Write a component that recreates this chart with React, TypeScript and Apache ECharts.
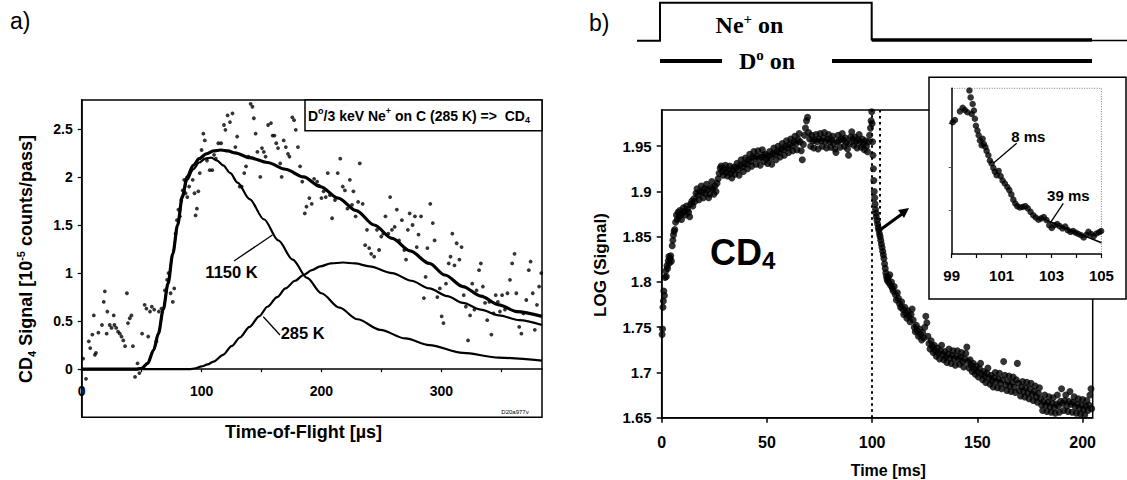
import { useEffect, useRef } from "react";
import * as echarts from "echarts";

const SANS = '"Liberation Sans", Arial, Helvetica, sans-serif';
const SERIF = '"Liberation Serif", "Times New Roman", serif';

// ---------- Panel a: CD4 time-of-flight spectrum ----------
const tofLabelValues = [0, 100, 200, 300];
const signalLabelValues = [0, 0.5, 1, 1.5, 2, 2.5];
const tofPoints: number[][] = [
  [1.2, 0.11], [3.6, -0.1], [5.9, 0.29], [7.1, 0.22], [8.9, 0.36], [10.1, 0.56], [11, 0.15], [11.9, 0.17],
  [13.9, 0.38], [16.9, 0.46], [18.4, 0.7], [19.3, 0.81], [20.8, 0.37], [21.4, 0.6], [23.4, 0.46], [24.9, 0.43],
  [26.7, 0.56], [27.3, 0.46], [28.8, 0.43], [30.3, 0.39], [31.8, 0.37], [33.2, 0.34], [34.7, 0.3], [36.2, 0.24],
  [37.7, 0.79], [38.6, 0.48], [40.1, 0.53], [41.5, 0.56], [42.7, 0.24], [44.5, -0.08], [46.6, 0.06], [48.1, -0.04],
  [50.4, 0.37], [52.5, 0.67], [54, 0.63], [55.5, 0.34], [57, 0.6], [58.5, 0.65], [60.5, 0.62], [62.3, 0.29],
  [64.4, 0.6], [66.5, 0.63], [69.4, 0.82], [71.2, 0.93], [72.4, 1.0], [74.2, 0.79], [76, 0.7], [77.2, 0.84],
  [78.3, 1.41], [79.5, 1.55], [80.7, 1.66], [81.9, 1.59], [83.1, 1.76], [84.3, 1.86], [85.5, 1.97], [86.6, 1.83],
  [88.1, 1.79], [89.6, 1.9], [91.4, 2.07], [92.6, 1.97], [94.1, 1.83], [95, 1.6], [96.1, 1.67], [97.3, 1.85],
  [98.5, 2.04], [100, 2.28], [101.5, 2.45], [102.7, 2.38], [104.5, 2.17], [106.8, 2.07], [108.9, 2.07], [110.4, 2.23],
  [111.9, 2.19], [114, 2.35], [116.3, 2.35], [118.7, 2.54], [119.9, 2.49], [121.7, 2.64], [123.7, 2.57], [125.8, 2.66],
  [128.2, 2.31], [129.7, 2.42], [131.8, 1.9], [133.5, 1.9], [135.6, 2.04], [137.1, 2.11], [139.2, 2.21], [140.9, 2.76],
  [142.4, 2.73], [143.6, 2.61], [145.1, 2.45], [146.6, 2.26], [149, 2.0], [150.4, 2.3], [151.9, 2.26], [153.4, 2.21],
  [155.5, 2.54], [157.9, 2.56], [159.3, 2.43], [160.8, 2.43], [162.3, 2.35], [163.8, 2.3], [165.6, 2.14], [166.8, 2.0],
  [168.5, 2.38], [170.3, 2.31], [172.1, 2.24], [173.3, 2.21], [175.7, 2.62], [177.2, 2.59], [178.6, 2.49], [180.4, 2.31],
  [182.2, 2.11], [184, 1.95], [186.1, 1.62], [187.5, 1.69], [189.9, 1.78], [191.9, 1.72], [193.9, 1.98], [196.4, 1.95],
  [197.9, 1.91], [200, 1.78], [201.8, 1.85], [203.6, 1.79], [205.3, 2.04], [207.1, 1.81], [208.9, 1.57], [211.3, 1.76],
  [213.6, 2.04], [215.7, 2.19], [217.8, 1.9], [219.6, 1.86], [221.7, 1.67], [223.7, 1.97], [225.5, 1.71], [226.7, 1.85],
  [228.5, 1.59], [230.6, 1.74], [232, 2.14], [234.4, 1.72], [236.5, 1.29], [238, 1.45], [239.8, 1.26], [241.5, 1.2],
  [244, 1.17], [246.3, 1.45], [248.1, 1.24], [249.9, 1.38], [251.6, 1.41], [253.4, 1.59], [255.8, 1.41], [257.3, 1.79],
  [258.8, 1.45], [261.1, 1.48], [262.9, 1.66], [264.7, 1.34], [267.1, 1.55], [269.1, 1.24], [270.6, 1.14], [272.1, 1.45],
  [273.6, 1.62], [276, 1.5], [278, 1.59], [279.5, 1.27], [281, 1.4], [283.1, 1.59], [285.5, 0.74], [286.9, 0.96],
  [288.4, 1.26], [290.8, 1.72], [292.9, 1.52], [294.4, 1.34], [296.7, 0.75], [298.8, 0.84], [300.3, 0.55], [301.8, 0.48],
  [303.9, 0.89], [306.2, 1.1], [307.7, 1.17], [309.2, 1.41], [311, 1.08], [312.8, 1.31], [315.1, 1.14], [316.9, 1.27],
  [318.7, 0.77], [320.5, 0.65], [322.3, 0.3], [324, 0.56], [325.8, 0.89], [327.6, 0.62], [329.4, 0.82], [331.5, 1.03],
  [333, 1.1], [334.7, 0.86], [336.5, 0.69], [338.3, 0.51], [340.1, 0.7], [341.8, 0.36], [343.6, 0.58], [345.4, 0.77],
  [347.2, 0.7], [348.9, 0.6], [350.7, 0.77], [353.1, 0.62], [355.2, 0.79], [357.3, 0.93], [359.1, 1.1], [361.1, 1.2],
  [362.6, 0.79], [365, 0.44], [366.8, 0.37], [368.5, 0.58], [370.9, 0.72], [373, 1.03], [374.5, 1.12], [376.3, 0.79],
  [378, 0.41], [379.8, 0.67], [381.6, 0.86], [383.4, 1.0],
];
const fitTotal: number[][] = [
  [0, 0], [45, 0], [50, 0.01], [55, 0.06], [60, 0.2], [64, 0.37], [68, 0.62], [72, 0.89], [76, 1.2], [80, 1.5],
  [84, 1.8], [88, 2.0], [93, 2.12], [98, 2.19], [104, 2.24], [110, 2.27], [116, 2.28], [122, 2.27], [128, 2.25],
  [140, 2.2], [155, 2.15], [170, 2.08], [185, 2.0], [199, 1.9], [214, 1.78], [229, 1.65], [244, 1.5], [259, 1.36],
  [274, 1.23], [290, 1.1], [303, 0.98], [318, 0.86], [333, 0.76], [348, 0.67], [363, 0.6], [384, 0.55],
];
const fit1150K: number[][] = [
  [0, 0], [45, 0], [50, 0.01], [55, 0.06], [60, 0.2], [64, 0.37], [68, 0.62], [72, 0.89], [76, 1.2], [80, 1.5],
  [84, 1.78], [88, 1.97], [93, 2.08], [98, 2.15], [103, 2.19], [108, 2.2], [113, 2.17], [118, 2.12], [124, 2.04],
  [130, 1.94], [140, 1.77], [152, 1.56], [164, 1.34], [176, 1.14], [188, 0.95], [200, 0.79], [215, 0.64], [230, 0.52],
  [249, 0.41], [270, 0.32], [290, 0.25], [318, 0.17], [348, 0.12], [384, 0.09],
];
const fit285K: number[][] = [
  [0, 0], [90, 0], [95, 0.01], [100, 0.03], [105, 0.05], [110, 0.08], [118, 0.15], [125, 0.24], [132, 0.33],
  [140, 0.44], [148, 0.55], [155, 0.65], [163, 0.75], [170, 0.84], [178, 0.92], [185, 0.98], [192, 1.03], [199, 1.07],
  [208, 1.1], [218, 1.11], [228, 1.1], [240, 1.07], [259, 1.0], [275, 0.92], [290, 0.84], [305, 0.76], [318, 0.69],
  [333, 0.62], [348, 0.56], [365, 0.51], [384, 0.46],
];

// ---------- Panel b: LOG(signal) vs time ----------
const timeLabelValues = [0, 50, 100, 150, 200];
const logLabelValues = [1.65, 1.7, 1.75, 1.8, 1.85, 1.9, 1.95];
const beamOffTime = 100;
const logSignal: number[][] = [
  [0.2, 1.742], [0.4, 1.748], [0.6, 1.772], [0.8, 1.779], [1.0, 1.79], [1.3, 1.785], [1.6, 1.805], [1.9, 1.812],
  [2.2, 1.806], [2.5, 1.818], [2.8, 1.815], [3.1, 1.823], [3.4, 1.828], [3.7, 1.821], [4.0, 1.826], [4.3, 1.829],
  [4.6, 1.823], [5.0, 1.84], [5.3, 1.846], [5.6, 1.852], [5.9, 1.856], [6.2, 1.858], [6.6, 1.866], [7.0, 1.874],
  [7.4, 1.869], [7.8, 1.877], [8.2, 1.872], [8.6, 1.879], [9.0, 1.874], [9.4, 1.869], [9.8, 1.876],
  [10.3, 1.882], [10.8, 1.878], [11.3, 1.874], [11.8, 1.884], [12.3, 1.88], [12.8, 1.877], [13.3, 1.872], [13.8, 1.886],
  [14.3, 1.889], [14.8, 1.884], [15.3, 1.892], [15.8, 1.889], [16.3, 1.898], [16.8, 1.903], [17.3, 1.896], [17.8, 1.891],
  [18.3, 1.9], [18.8, 1.906], [19.3, 1.899], [19.8, 1.893], [20.3, 1.903], [20.8, 1.898], [21.3, 1.908], [21.8, 1.902],
  [22.3, 1.893], [22.8, 1.897], [23.3, 1.904], [23.8, 1.911], [24.3, 1.903], [24.8, 1.897], [25.3, 1.906], [25.8, 1.9],
  [26.3, 1.909], [26.8, 1.914], [27.3, 1.92], [27.8, 1.926], [28.3, 1.928], [28.8, 1.922], [29.3, 1.918], [29.8, 1.925],
  [30.3, 1.929], [30.8, 1.921], [31.3, 1.917], [31.8, 1.924], [32.3, 1.928], [32.8, 1.92], [33.3, 1.915], [33.8, 1.923],
  [34.3, 1.927], [34.8, 1.919], [35.3, 1.926], [35.8, 1.931], [36.3, 1.924], [36.8, 1.918], [37.3, 1.929], [37.8, 1.935],
  [38.3, 1.927], [38.8, 1.922], [39.3, 1.931], [39.8, 1.937], [40.3, 1.93], [40.8, 1.925], [41.3, 1.935], [41.8, 1.941],
  [42.3, 1.933], [42.8, 1.928], [43.3, 1.938], [43.8, 1.944], [44.3, 1.937], [44.8, 1.93], [45.3, 1.939], [45.8, 1.945],
  [46.3, 1.936], [46.8, 1.929], [47.3, 1.938], [47.8, 1.946], [48.3, 1.94], [48.8, 1.933], [49.3, 1.941], [49.8, 1.936],
  [50.3, 1.931], [50.8, 1.939], [51.3, 1.944], [51.8, 1.937], [52.3, 1.93], [52.8, 1.942], [53.3, 1.948], [53.8, 1.941],
  [54.3, 1.935], [54.8, 1.944], [55.3, 1.95], [55.8, 1.943], [56.3, 1.938], [56.8, 1.947], [57.3, 1.953], [57.8, 1.946],
  [58.3, 1.94], [58.8, 1.95], [59.3, 1.956], [59.8, 1.948], [60.3, 1.943], [60.8, 1.952], [61.3, 1.958], [61.8, 1.95],
  [62.3, 1.945], [62.8, 1.955], [63.3, 1.961], [63.8, 1.953], [64.3, 1.946], [64.8, 1.957], [65.3, 1.964], [65.8, 1.955],
  [66.3, 1.945], [66.8, 1.935], [67.3, 1.952], [67.8, 1.962], [68.3, 1.97], [68.8, 1.978], [69.3, 1.982], [69.8, 1.965],
  [70.3, 1.958], [70.8, 1.95], [71.3, 1.962], [71.8, 1.956], [72.3, 1.948], [72.8, 1.957], [73.3, 1.963], [73.8, 1.955],
  [74.3, 1.947], [74.8, 1.958], [75.3, 1.964], [75.8, 1.956], [76.3, 1.95], [76.8, 1.959], [77.3, 1.965], [77.8, 1.955],
  [78.3, 1.948], [78.8, 1.958], [79.3, 1.963], [79.8, 1.955], [80.3, 1.949], [80.8, 1.957], [81.3, 1.961], [81.8, 1.953],
  [82.3, 1.947], [82.8, 1.943], [83.3, 1.955], [83.8, 1.962], [84.3, 1.956], [84.8, 1.949], [85.3, 1.958], [85.8, 1.964],
  [86.3, 1.957], [86.8, 1.95], [87.3, 1.959], [87.8, 1.954], [88.3, 1.947], [88.8, 1.94], [89.3, 1.953], [89.8, 1.96],
  [90.3, 1.966], [90.8, 1.958], [91.3, 1.951], [91.8, 1.96], [92.3, 1.955], [92.8, 1.948], [93.3, 1.957], [93.8, 1.963],
  [94.3, 1.955], [94.8, 1.949], [95.3, 1.958], [95.8, 1.952], [96.3, 1.946], [96.8, 1.956], [97.3, 1.95], [97.8, 1.944],
  [98.3, 1.955], [98.8, 1.962], [99.2, 1.97], [99.5, 1.978], [99.8, 1.988],
  [100.0, 1.975], [100.2, 1.955], [100.4, 1.94], [100.6, 1.925], [100.8, 1.912], [101.0, 1.9], [101.2, 1.893],
  [101.4, 1.886], [101.6, 1.88], [101.8, 1.876], [102.0, 1.872], [102.3, 1.868], [102.6, 1.864], [102.9, 1.86],
  [103.2, 1.857], [103.5, 1.853], [103.8, 1.85], [104.1, 1.846], [104.4, 1.842], [104.7, 1.838], [105.0, 1.834],
  [105.3, 1.83], [105.6, 1.826], [105.9, 1.82], [106.2, 1.815], [106.5, 1.81], [106.8, 1.806], [107.1, 1.803],
  [107.4, 1.801], [107.7, 1.805], [108.0, 1.799], [108.4, 1.808], [108.8, 1.796], [109.2, 1.8], [109.6, 1.793],
  [110.0, 1.79], [110.5, 1.795], [111.0, 1.786], [111.5, 1.78], [112.0, 1.788], [112.5, 1.782], [113.0, 1.776],
  [113.5, 1.772], [114.0, 1.778], [114.5, 1.77], [115.0, 1.764], [115.5, 1.772], [116.0, 1.766], [116.5, 1.76],
  [117.0, 1.768], [117.5, 1.762], [118.0, 1.756], [118.5, 1.764], [119.0, 1.77], [119.5, 1.758], [120.0, 1.75],
  [120.5, 1.745], [121.0, 1.752], [121.5, 1.746], [122.0, 1.74], [122.5, 1.748], [123.0, 1.742], [123.5, 1.736],
  [124.0, 1.744], [124.5, 1.738], [125.0, 1.75], [125.5, 1.762], [126.0, 1.755], [126.5, 1.74], [127.0, 1.732],
  [127.5, 1.726], [128.0, 1.735], [128.5, 1.729], [129.0, 1.722], [129.5, 1.73],
  [130.0, 1.724], [130.5, 1.718], [131.0, 1.727], [131.5, 1.721], [132.0, 1.715], [132.5, 1.724], [133.0, 1.73],
  [133.5, 1.72], [134.0, 1.714], [134.5, 1.723], [135.0, 1.717], [135.5, 1.711], [136.0, 1.72], [136.5, 1.726],
  [137.0, 1.716], [137.5, 1.71], [138.0, 1.719], [138.5, 1.724], [139.0, 1.715], [139.5, 1.708], [140.0, 1.718],
  [140.5, 1.724], [141.0, 1.715], [141.5, 1.709], [142.0, 1.717], [142.5, 1.722], [143.0, 1.712], [143.5, 1.706],
  [144.0, 1.715], [144.5, 1.721], [145.0, 1.728], [145.5, 1.712], [146.0, 1.705], [146.5, 1.714], [147.0, 1.708],
  [147.5, 1.701], [148.0, 1.71], [148.5, 1.704], [149.0, 1.698], [149.5, 1.707],
  [150.0, 1.701], [150.5, 1.695], [151.0, 1.704], [151.5, 1.71], [152.0, 1.698], [152.5, 1.692], [153.0, 1.701],
  [153.5, 1.696], [154.0, 1.689], [154.5, 1.699], [155.0, 1.705], [155.5, 1.694], [156.0, 1.687], [156.5, 1.697],
  [157.0, 1.691], [157.5, 1.684], [158.0, 1.694], [158.5, 1.7], [159.0, 1.69], [159.5, 1.683], [160.0, 1.693],
  [160.5, 1.699], [161.0, 1.688], [161.5, 1.682], [162.0, 1.692], [162.5, 1.712], [163.0, 1.697], [163.5, 1.686],
  [164.0, 1.68], [164.5, 1.69], [165.0, 1.696], [165.5, 1.685], [166.0, 1.679], [166.5, 1.689], [167.0, 1.695],
  [167.5, 1.684], [168.0, 1.678], [168.5, 1.692], [169.0, 1.71], [169.5, 1.688], [170.0, 1.68], [170.5, 1.674],
  [171.0, 1.684], [171.5, 1.69], [172.0, 1.679], [172.5, 1.673], [173.0, 1.683], [173.5, 1.689], [174.0, 1.677],
  [174.5, 1.671], [175.0, 1.682], [175.5, 1.688], [176.0, 1.676], [176.5, 1.669], [177.0, 1.679], [177.5, 1.685],
  [178.0, 1.673], [178.5, 1.667], [179.0, 1.677], [179.5, 1.683], [180.0, 1.671], [180.5, 1.664], [181.0, 1.658],
  [181.5, 1.668], [182.0, 1.675], [182.5, 1.664], [183.0, 1.657], [183.5, 1.667], [184.0, 1.673], [184.5, 1.662],
  [185.0, 1.656], [185.5, 1.666], [186.0, 1.672], [186.5, 1.661], [187.0, 1.655], [187.5, 1.665], [188.0, 1.675],
  [188.5, 1.663], [189.0, 1.656], [189.5, 1.668], [190.0, 1.682], [190.5, 1.666], [191.0, 1.658], [191.5, 1.669],
  [192.0, 1.675], [192.5, 1.663], [193.0, 1.657], [193.5, 1.668], [194.0, 1.679], [194.5, 1.665], [195.0, 1.656],
  [195.5, 1.667], [196.0, 1.673], [196.5, 1.662], [197.0, 1.655], [197.5, 1.665], [198.0, 1.671], [198.5, 1.66],
  [199.0, 1.654], [199.5, 1.664], [200.0, 1.67], [200.5, 1.659], [201.0, 1.653], [201.5, 1.663], [202.0, 1.669],
  [202.5, 1.658], [203.0, 1.664], [203.5, 1.675], [204.0, 1.682], [204.3, 1.66],
];

// ---------- Inset: 99-105 ms zoom (arbitrary signal units) ----------
const insetLabelValues = [99, 101, 103, 105];
const insetSignal: number[][] = [
  [99.04, 3.03], [99.13, 3.08], [99.33, 3.28], [99.44, 3.36], [99.53, 3.31], [99.63, 3.26], [99.71, 3.76],
  [99.76, 3.6], [99.8, 3.22], [99.84, 3.45], [99.89, 3.3], [99.93, 3.11], [99.97, 2.95], [100.03, 2.84],
  [100.08, 2.73], [100.13, 2.61], [100.2, 2.5], [100.24, 2.65], [100.29, 2.53], [100.35, 2.46], [100.4, 2.37],
  [100.47, 2.27], [100.53, 2.15], [100.6, 2.08], [100.67, 1.98], [100.73, 1.89], [100.8, 1.81], [100.88, 1.91],
  [100.96, 1.79], [101.04, 1.69], [101.13, 1.62], [101.23, 1.54], [101.31, 1.47], [101.39, 1.37], [101.47, 1.25],
  [101.55, 1.16], [101.63, 1.1], [101.73, 1.07], [101.84, 1.08], [101.95, 1.1], [102.05, 1.05], [102.16, 0.97],
  [102.27, 0.89], [102.37, 0.84], [102.48, 0.79], [102.59, 0.82], [102.69, 0.85], [102.8, 0.78], [102.91, 0.66],
  [103.01, 0.6], [103.12, 0.66], [103.23, 0.69], [103.33, 0.64], [103.44, 0.59], [103.55, 0.63], [103.65, 0.55],
  [103.76, 0.51], [103.87, 0.53], [103.97, 0.49], [104.08, 0.46], [104.19, 0.43], [104.29, 0.38], [104.4, 0.44],
  [104.48, 0.51], [104.59, 0.46], [104.69, 0.41], [104.8, 0.47], [104.91, 0.5], [104.99, 0.53],
];
const insetFit39ms: number[][] = [[102.7, 0.8], [105, 0.26]];

const fmtNum = (v: number) => String(parseFloat(v.toFixed(2)));
const onList = (list: number[]) => (v: number) =>
  list.some((t) => Math.abs(t - v) < 1e-6) ? fmtNum(v) : "";

export default function App() {
  const ref = useRef<HTMLDivElement>(null);

  useEffect(() => {
    if (!ref.current) return;
    const chart = echarts.init(ref.current, undefined, { renderer: "svg" });

    const lblStyle = (size: number) => ({
      color: "#000",
      fontWeight: "bold" as const,
      fontFamily: SANS,
      fontSize: size,
    });
    const blackLine = (w: number) => ({ lineStyle: { color: "#000", width: w } });

    const txt = (
      x: number, y: number, text: string, size: number,
      extra: any = {}, styleExtra: any = {}
    ) => ({
      type: "text", x, y, z: 30, silent: true, ...extra,
      style: {
        text, fill: "#000", fontSize: size, fontWeight: "bold", fontFamily: SANS,
        align: "center", verticalAlign: "middle", ...styleExtra,
      },
    });
    const seg = (x1: number, y1: number, x2: number, y2: number, w: number, z = 30, extra: any = {}) => ({
      type: "line", z, silent: true,
      shape: { x1, y1, x2, y2 },
      style: { stroke: "#000", lineWidth: w, ...extra },
    });
    const richSet = (size: number, family: string, lh: number, small: number) => ({
      m: { fontSize: size, fontWeight: "bold", fontFamily: family, lineHeight: lh, verticalAlign: "middle", fill: "#000" },
      s: { fontSize: small, fontWeight: "bold", fontFamily: family, lineHeight: small, verticalAlign: "top", fill: "#000" },
      b: { fontSize: small, fontWeight: "bold", fontFamily: family, lineHeight: small, verticalAlign: "bottom", fill: "#000" },
    });

    // panel a grid geometry: the x axis sits on y = 0, above the frame bottom
    const aTop = 100, aHeight = 317.3, aMin = -0.5, aMax = 2.8;
    const zeroOffset = -(aHeight * (0 - aMin)) / (aMax - aMin);

    const option: any = {
      animation: false,
      backgroundColor: "#fff",
      grid: [
        { left: 81.7, top: aTop, width: 460.3, height: aHeight, show: true, borderColor: "#000", borderWidth: 1.5, backgroundColor: "transparent" },
        { left: 661.7, top: 110, width: 431, height: 307.7, show: true, borderColor: "#000", borderWidth: 1.5, backgroundColor: "transparent" },
        { left: 951.7, top: 88.3, width: 149.7, height: 165.7, show: false, z: 20 },
      ],
      xAxis: [
        {
          gridIndex: 0, type: "value", min: 0, max: 384, interval: 50, position: "bottom", offset: zeroOffset,
          axisLine: { onZero: false, ...blackLine(1.5) },
          axisTick: { length: 3, ...blackLine(1.2), customValues: [0, 50, 100, 150, 200, 250, 300, 350] },
          axisLabel: { ...lblStyle(14), margin: 15, formatter: onList(tofLabelValues), customValues: tofLabelValues },
          splitLine: { show: false },
        },
        {
          gridIndex: 1, type: "value", min: 0, max: 204.8, interval: 50,
          axisLine: { ...blackLine(1.5) },
          axisTick: { length: 5, ...blackLine(1.5), customValues: timeLabelValues },
          axisLabel: { ...lblStyle(16), margin: 17, formatter: onList(timeLabelValues), customValues: timeLabelValues },
          splitLine: { show: false },
        },
        {
          gridIndex: 2, type: "value", min: 99, max: 105, interval: 1, z: 20,
          axisLine: { onZero: false, ...blackLine(1.5) },
          axisTick: { length: 4, ...blackLine(1.2), customValues: [99, 100, 101, 102, 103, 104, 105] },
          axisLabel: { ...lblStyle(15), margin: 14, formatter: onList(insetLabelValues), customValues: insetLabelValues },
          splitLine: { show: false },
        },
      ],
      yAxis: [
        {
          gridIndex: 0, type: "value", min: aMin, max: aMax, interval: 0.5,
          axisLine: { onZero: false, ...blackLine(1.5) },
          axisTick: { length: 4, ...blackLine(1.2), customValues: signalLabelValues },
          axisLabel: { ...lblStyle(14), margin: 9, formatter: onList(signalLabelValues), customValues: signalLabelValues },
          splitLine: { show: false },
        },
        {
          gridIndex: 1, type: "value", min: 1.65, max: 1.99, interval: 0.05,
          axisLine: { ...blackLine(1.5) },
          axisTick: { length: 5, ...blackLine(1.5), customValues: logLabelValues },
          axisLabel: { ...lblStyle(15), margin: 10, formatter: onList(logLabelValues), customValues: logLabelValues },
          splitLine: { show: false },
        },
        {
          gridIndex: 2, type: "value", min: 0, max: 3.81, interval: 1, z: 20,
          axisLine: { onZero: false, ...blackLine(1.5) },
          axisTick: { length: 3, lineStyle: { color: "#555", width: 1 }, customValues: [1, 2, 3] },
          axisLabel: { show: false },
          splitLine: { show: false },
        },
      ],
      series: [
        {
          type: "scatter", xAxisIndex: 0, yAxisIndex: 0, data: tofPoints, symbolSize: 3.8, silent: true,
          itemStyle: { color: "#000" },
        },
        {
          type: "line", xAxisIndex: 0, yAxisIndex: 0, data: fit1150K, smooth: 0.3, smoothMonotone: "x",
          showSymbol: false, silent: true, lineStyle: { color: "#000", width: 2.2 },
        },
        {
          type: "line", xAxisIndex: 0, yAxisIndex: 0, data: fit285K, smooth: 0.3, smoothMonotone: "x",
          showSymbol: false, silent: true, lineStyle: { color: "#000", width: 2.2 },
        },
        {
          type: "line", xAxisIndex: 0, yAxisIndex: 0, data: fitTotal, smooth: 0.3, smoothMonotone: "x",
          showSymbol: false, silent: true, lineStyle: { color: "#000", width: 3.2 },
        },
        {
          type: "scatter", xAxisIndex: 1, yAxisIndex: 1, data: logSignal, symbolSize: 7, silent: true,
          itemStyle: { color: "#000" },
          markLine: {
            silent: true, symbol: ["none", "none"], label: { show: false },
            lineStyle: { color: "#000", width: 2, type: [2.5, 3.5] },
            data: [
              { xAxis: beamOffTime },
              [{ coord: [103.5, 1.99] }, { coord: [103.5, 1.86] }],
            ],
          },
        },
        {
          type: "scatter", xAxisIndex: 2, yAxisIndex: 2, data: insetSignal, symbolSize: 6.5, silent: true, z: 22,
          itemStyle: { color: "#000" },
          markLine: {
            silent: true, symbol: ["none", "none"], label: { show: false },
            lineStyle: { color: "#000", width: 2, type: [2.5, 3.5] },
            data: [{ xAxis: beamOffTime }],
          },
        },
        {
          type: "line", xAxisIndex: 2, yAxisIndex: 2, data: insetFit39ms, showSymbol: false, silent: true, z: 22,
          lineStyle: { color: "#000", width: 1.5 },
        },
      ],
      graphic: [
        // panel letters
        txt(10, 21, "a)", 23, {}, { fontWeight: "normal", align: "left" }),
        txt(589, 23, "b)", 23, {}, { fontWeight: "normal", align: "left" }),
        // panel a legend box
        { type: "rect", z: 10, silent: true, shape: { x: 305, y: 100, width: 237, height: 30.7 }, style: { fill: "#fff", stroke: "#000", lineWidth: 1.5 } },
        txt(308, 115.5, "{m|D}{s|o}{m|/3 keV Ne}{s|+}{m| on C (285 K) =>  CD}{b|4}", 14, {}, {
          align: "left", rich: richSet(14, SANS, 18, 9),
        }),
        // curve labels
        txt(231.5, 271.7, "1150 K", 16.5),
        seg(234, 261, 272.4, 235, 1.3),
        txt(302.7, 333.3, "285 K", 16.5),
        seg(280, 335, 263.3, 316.7, 1.3),
        txt(515, 412, "D20a977v", 6, {}, { fontWeight: "normal" }),
        // panel a axis titles
        txt(26, 259, "{m|CD}{b|4}{m| Signal [10}{s|-5}{m| counts/pass]}", 18, { rotation: Math.PI / 2 }, {
          rich: richSet(18, SANS, 22, 11),
        }),
        txt(303.5, 431.7, "Time-of-Flight [µs]", 18),
        // panel b titles and labels
        txt(600, 265, "LOG (Signal)", 17, { rotation: Math.PI / 2 }),
        txt(888.3, 470, "Time [ms]", 16),
        txt(710, 252, "{m|CD}{b|4}", 36, {}, { align: "left", rich: richSet(36, SANS, 40, 24) }),
        // arrow
        seg(880, 230, 902, 214, 3),
        { type: "polygon", z: 30, silent: true, shape: { points: [[909, 208], [904, 218], [898, 210]] }, style: { fill: "#000" } },
        // top beam schematic
        {
          type: "polyline", z: 30, silent: true,
          shape: { points: [[637, 40.7], [660, 40.7], [660, 2.7], [871.7, 2.7], [871.7, 40.5]] },
          style: { stroke: "#000", lineWidth: 2, fill: null },
        },
        seg(871.7, 40, 1092, 40, 3.5),
        seg(1092, 40.5, 1127, 40.5, 1.5),
        seg(660, 61, 722, 61, 4),
        seg(832, 61, 1092, 61, 4),
        txt(749.5, 25, "{m|Ne}{s|+}{m| on}", 24, {}, { rich: richSet(24, SERIF, 28, 15) }),
        txt(767, 61, "{m|D}{s|o}{m| on}", 24, {}, { rich: richSet(24, SERIF, 28, 15) }),
        // inset frame
        { type: "rect", z: 10, silent: true, shape: { x: 929, y: 77.3, width: 197, height: 221.7 }, style: { fill: "#fff", stroke: "#000", lineWidth: 1.5 } },
        {
          type: "polyline", z: 15, silent: true,
          shape: { points: [[951.7, 88.3], [1101.4, 88.3], [1101.4, 254]] },
          style: { stroke: "#777", lineWidth: 1, lineDash: [1, 1.5], fill: null },
        },
        txt(1028.3, 136.7, "8 ms", 15),
        seg(1016.7, 143.3, 993.3, 163.3, 1.3),
        txt(1068.3, 195, "39 ms", 15),
        seg(1063.3, 203.3, 1050, 223.3, 1.3),
      ],
    };

    chart.setOption(option);
    return () => chart.dispose();
  }, []);

  return (
    <div
      ref={ref}
      style={{ position: "fixed", left: 0, top: 0, width: 1127, height: 480, background: "#fff" }}
    />
  );
}
